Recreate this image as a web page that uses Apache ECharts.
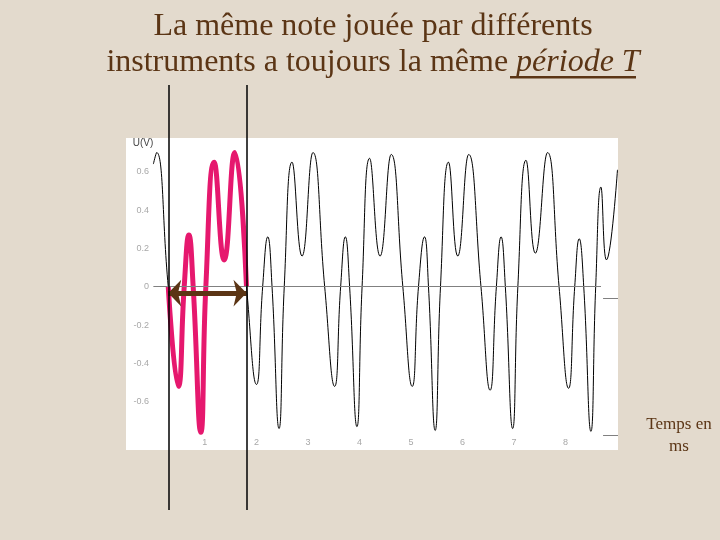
<!DOCTYPE html>
<html><head><meta charset="utf-8">
<script src="https://cdn.jsdelivr.net/npm/echarts@6/dist/echarts.min.js"></script>
<style>html,body{margin:0;padding:0;background:#E3DACD;} #c{width:720px;height:540px;}</style>
</head><body><div id="c"></div>
<script>
// ---- texts ----
const titleLine1 = 'La même note jouée par différents';
const titleLine2a = 'instruments a toujours la même ';
const titleLine2b = 'période T';
const xAxisTitle = 'Temps en\nms';
const yAxisTitle = 'U(V)';

// ---- tick labels ----
const xTickValues = [1, 2, 3, 4, 5, 6, 7, 8];
const yTickValues = [-0.6, -0.4, -0.2, 0, 0.2, 0.4, 0.6];

const signalTimes = [
  0.000, 0.064,
  0.289, 0.483, 0.599, 0.690, 0.773, 0.922, 1.019, 1.180, 1.374, 1.581, 1.808,
  2.002, 2.122, 2.221, 2.304, 2.440, 2.541, 2.692, 2.886, 3.099, 3.326,
  3.519, 3.636, 3.727, 3.810, 3.952, 4.052, 4.198, 4.401, 4.618, 4.843,
  5.025, 5.147, 5.264, 5.341, 5.471, 5.574, 5.729, 5.909, 6.122, 6.360,
  6.537, 6.659, 6.750, 6.833, 6.975, 7.076, 7.234, 7.415, 7.653, 7.876,
  8.060, 8.180, 8.267, 8.355, 8.494, 8.587, 8.688, 8.796, 9.010
];
const signalVolts = [
  0.64, 0.70,
  0, -0.52, 0, 0.27, 0, -0.76, 0, 0.65, 0.14, 0.70, 0,
  -0.51, 0, 0.26, 0, -0.74, 0, 0.65, 0.16, 0.70, 0,
  -0.52, 0, 0.26, 0, -0.73, 0, 0.67, 0.16, 0.69, 0,
  -0.52, 0, 0.26, 0, -0.75, 0, 0.65, 0.16, 0.69, 0,
  -0.54, 0, 0.26, 0, -0.74, 0, 0.66, 0.175, 0.70, 0,
  -0.53, 0, 0.25, 0, -0.755, 0, 0.52, 0.14, 0.61
];

// ---- highlighted single period (pink) ----
const periodTimes = [0.289, 0.483, 0.599, 0.690, 0.773, 0.922, 1.019, 1.180, 1.374, 1.581, 1.808];
const periodVolts = [0, -0.52, 0, 0.27, 0, -0.76, 0, 0.65, 0.14, 0.70, 0];
const periodStart = 0.289;
const periodEnd = 1.808;
const arrowLevel = -0.033;

// ---- reference lines of the original plot ----
const zeroLineEnd = 8.69;
const sideMarkStart = 8.73;
const sideMarkEnd = 9.02;
const sideMarkLevels = [-0.059, -0.774];

const xMin = -0.531, xMax = 9.02;
const yMin = -0.852, yMax = 0.776;

const brown = '#5B3515';
const signal = signalTimes.map((t, i) => [t, signalVolts[i]]);
const period = periodTimes.map((t, i) => [t, periodVolts[i]]);

const chart = echarts.init(document.getElementById('c'), null, {renderer: 'canvas'});
chart.setOption({
  animation: false,
  backgroundColor: '#E3DACD',
  title: {
    text: '{a|' + titleLine1 + '}\n{a|' + titleLine2a + '}{b|' + titleLine2b + '}',
    left: 368, top: 4, textAlign: 'center',
    textStyle: {
      fontWeight: 'normal',
      rich: {
        a: {fontFamily: 'Liberation Serif', fontSize: 32, fontWeight: 'normal', color: brown, lineHeight: 36},
        b: {fontFamily: 'Liberation Serif', fontSize: 32, fontWeight: 'normal', color: brown, lineHeight: 36, fontStyle: 'italic'}
      }
    }
  },
  graphic: [
    {type: 'rect', shape: {x: 510, y: 76, width: 126, height: 2.5}, style: {fill: brown}, silent: true},
    {type: 'text', x: 679, y: 414, style: {text: xAxisTitle, textAlign: 'center', fill: brown,
      font: '17px "Liberation Serif"', lineHeight: 22}, silent: true}
  ],
  grid: [
    {left: 126, top: 138, width: 492, height: 312, show: true, backgroundColor: '#ffffff', borderWidth: 0},
    {left: 126, top: 85, width: 492, height: 425, show: false}
  ],
  xAxis: [
    {gridIndex: 0, type: 'value', min: xMin, max: xMax,
      axisLine: {show: false}, axisTick: {show: false}, splitLine: {show: false},
      axisLabel: {inside: true, margin: 3, customValues: xTickValues, fontSize: 9, color: '#a8a8a8',
        fontFamily: 'Liberation Sans'}},
    {gridIndex: 1, type: 'value', min: xMin, max: xMax, show: false}
  ],
  yAxis: [
    {gridIndex: 0, type: 'value', min: yMin, max: yMax, offset: -26,
      axisLine: {show: false}, axisTick: {show: false}, splitLine: {show: false},
      axisLabel: {margin: 3, customValues: yTickValues, fontSize: 9, color: '#a8a8a8',
        fontFamily: 'Liberation Sans'},
      name: yAxisTitle, nameLocation: 'end', nameGap: -5,
      nameTextStyle: {align: 'right', verticalAlign: 'middle', fontSize: 10, color: '#444',
        fontFamily: 'Liberation Sans'}},
    {gridIndex: 1, type: 'value', min: 0, max: 1, show: false}
  ],
  series: [
    {type: 'line', xAxisIndex: 0, yAxisIndex: 0, data: signal, smooth: 0.5, symbol: 'none', z: 2,
      lineStyle: {color: '#000', width: 1}, silent: true,
      markLine: {silent: true, symbol: 'none', label: {show: false},
        lineStyle: {color: '#808080', width: 1, type: 'solid'},
        data: [
          [{coord: [0, 0]}, {coord: [zeroLineEnd, 0]}],
          [{coord: [sideMarkStart, sideMarkLevels[0]]}, {coord: [sideMarkEnd, sideMarkLevels[0]]}],
          [{coord: [sideMarkStart, sideMarkLevels[1]]}, {coord: [sideMarkEnd, sideMarkLevels[1]]}]
        ]}},
    {type: 'line', xAxisIndex: 0, yAxisIndex: 0, data: period, smooth: 0.5, symbol: 'none', z: 3,
      lineStyle: {color: '#E6186E', width: 5}, silent: true},
    {type: 'line', xAxisIndex: 0, yAxisIndex: 0, data: [], z: 4, silent: true,
      markLine: {silent: true, symbol: ['arrow', 'arrow'], symbolSize: [20, 13], label: {show: false},
        lineStyle: {color: brown, width: 5, type: 'solid'},
        data: [[{coord: [periodStart, arrowLevel]}, {coord: [periodEnd, arrowLevel]}]]}},
    {type: 'line', xAxisIndex: 1, yAxisIndex: 1, data: [], z: 4, silent: true,
      markLine: {silent: true, symbol: 'none', label: {show: false},
        lineStyle: {color: '#000', width: 1.5, type: 'solid'},
        data: [{xAxis: periodStart}, {xAxis: periodEnd}]}}
  ]
});
</script></body></html>
